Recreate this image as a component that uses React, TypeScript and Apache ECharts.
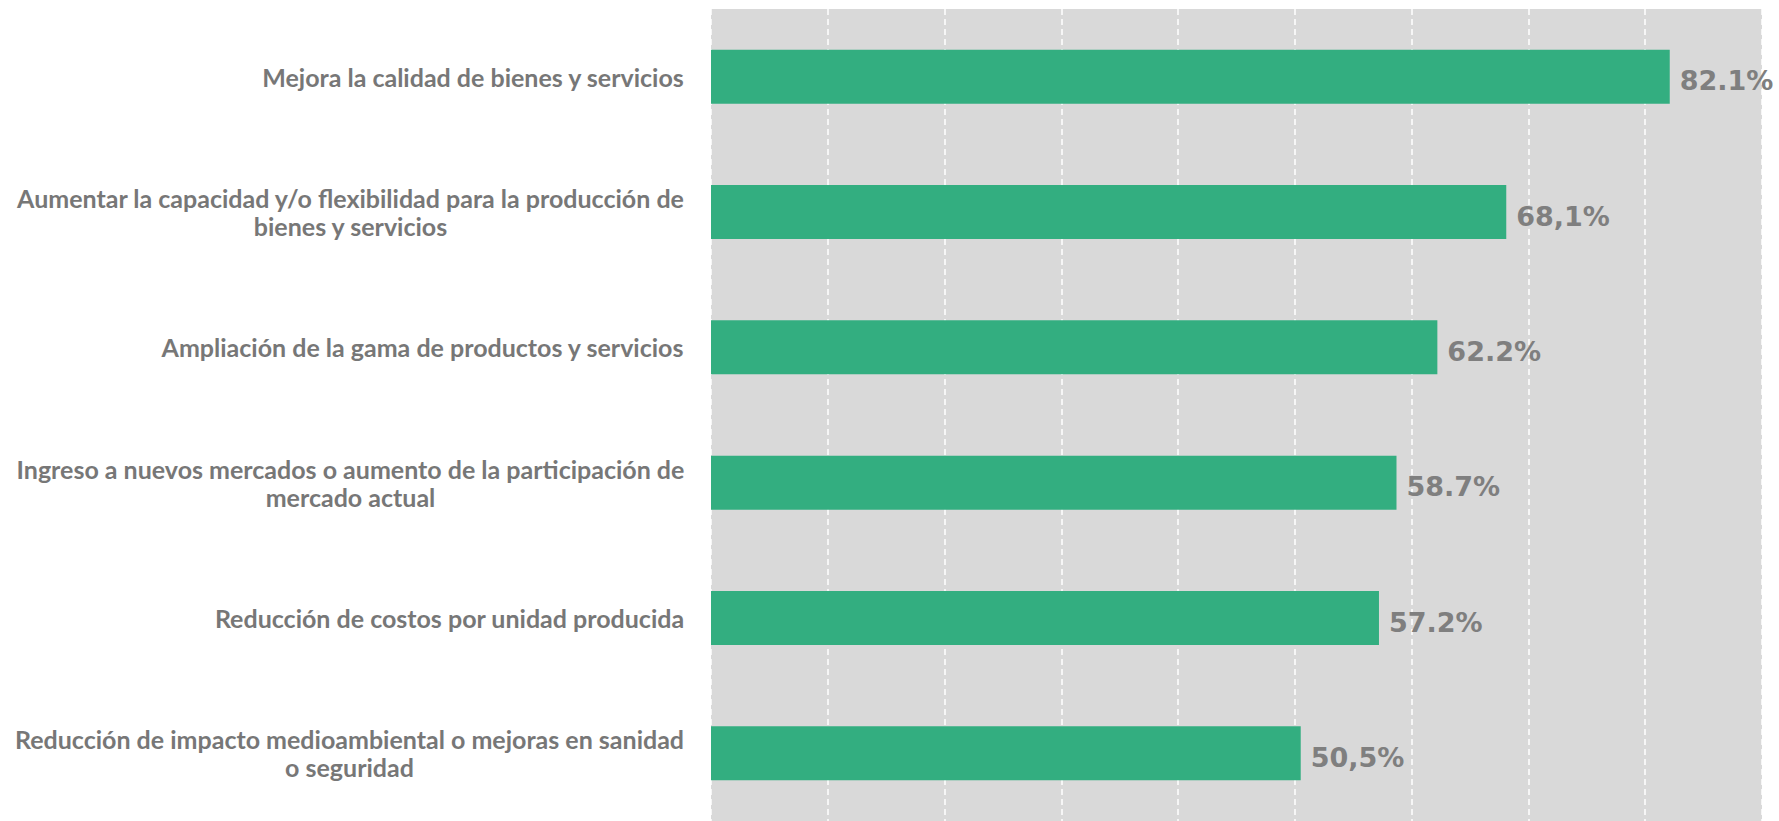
import React, { useEffect, useRef } from "react";
import * as echarts from "echarts";

const categories = [
  "Mejora la calidad de bienes y servicios",
  "Aumentar la capacidad y/o flexibilidad para la producción de\nbienes y servicios",
  "Ampliación de la gama de productos y servicios",
  "Ingreso a nuevos mercados o aumento de la participación de\nmercado actual",
  "Reducción de costos por unidad producida",
  "Reducción de impacto medioambiental o mejoras en sanidad\no seguridad",
];
const values = [82.1, 68.1, 62.2, 58.7, 57.2, 50.5];
const valueLabels = ["82.1%", "68,1%", "62.2%", "58.7%", "57.2%", "50,5%"];
const axisMin = 0;
const axisMax = 90;
const axisInterval = 10;

const LABEL_FONT = "Lato";
const LABEL_SIZE = 25;
const LABEL_COLOR = "#777777";

export default function App() {
  const ref = useRef<HTMLDivElement>(null);
  useEffect(() => {
    document.body.style.margin = "0";
    if (!ref.current) return;
    const chart = echarts.init(ref.current, undefined, { renderer: "svg" });
    const ctx = document.createElement("canvas").getContext("2d")!;
    ctx.font = `bold ${LABEL_SIZE}px ${LABEL_FONT}`;
    const rich: Record<string, any> = {};
    categories.forEach((c, i) => {
      const w = Math.max(...c.split("\n").map((l) => ctx.measureText(l).width));
      rich["l" + i] = {
        width: Math.ceil(w) + 1,
        align: "center",
        fontFamily: LABEL_FONT,
        fontWeight: "bold",
        fontSize: LABEL_SIZE,
        lineHeight: 28,
        color: LABEL_COLOR,
      };
    });
    chart.setOption({
      animation: false,
      grid: {
        left: 711,
        top: 9,
        width: 1051,
        height: 817,
        show: true,
        backgroundColor: "#d9d9d9",
        borderWidth: 0,
        containLabel: false,
      },
      xAxis: {
        type: "value",
        min: axisMin,
        max: axisMax,
        interval: axisInterval,
        axisLabel: { show: false },
        axisLine: { show: false },
        axisTick: { show: false },
        splitLine: {
          show: true,
          lineStyle: { color: "#ffffff", width: 1.5, type: [6, 4] },
        },
      },
      yAxis: {
        type: "category",
        inverse: true,
        data: categories,
        axisLine: { show: false },
        axisTick: { show: false },
        axisLabel: {
          margin: 26,
          align: "right",
          formatter: (v: string, i: number) =>
            v
              .split("\n")
              .map((l) => `{l${i}|${l}}`)
              .join("\n"),
          rich,
        },
      },
      series: [
        {
          type: "bar",
          data: values,
          barWidth: 54,
          itemStyle: { color: "#33ae80" },
          label: {
            show: true,
            position: "right",
            distance: 10,
            offset: [0, 4],
            formatter: (p: any) => valueLabels[p.dataIndex],
            fontFamily: "DejaVu Sans",
            fontWeight: "bold",
            fontSize: 27,
            color: "#7f7f7f",
          },
        },
      ],
    });
    return () => chart.dispose();
  }, []);
  return <div ref={ref} style={{ width: 1779, height: 821 }} />;
}
